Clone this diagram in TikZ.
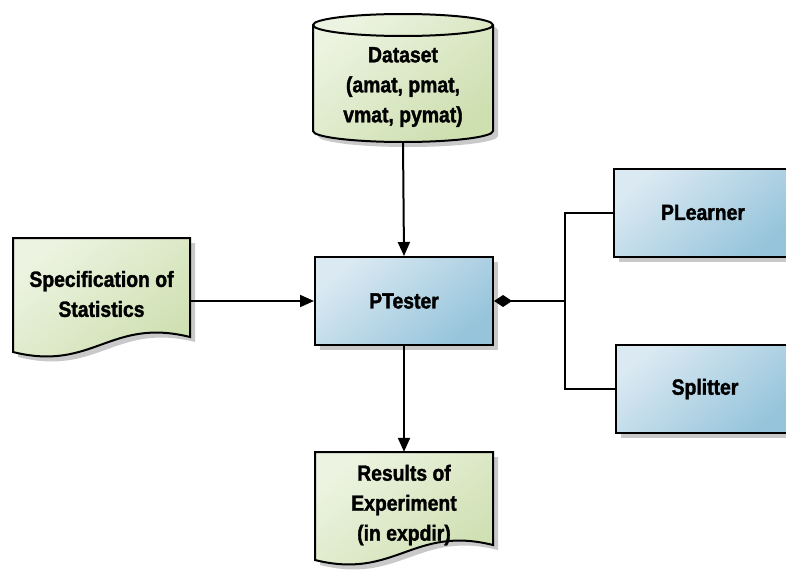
\documentclass[tikz,border=0pt]{standalone}
\usepackage{fontspec}
\setmainfont{Liberation Sans}[FakeStretch=0.88, BoldFeatures={FakeBold=1.6}]
\usetikzlibrary{shadows,arrows.meta}
\definecolor{grnA}{RGB}{236,243,224}
\definecolor{grnB}{RGB}{206,223,176}
\definecolor{bluA}{RGB}{218,233,242}
\definecolor{bluB}{RGB}{150,196,219}
\tikzset{
  lbl/.style={font=\bfseries\fontsize{22}{30}\selectfont, align=center, inner sep=0pt},
  shd/.style={drop shadow={shadow xshift=5pt, shadow yshift=-5pt, opacity=0.3, fill=black!70}},
  grnfill/.style={draw=black, line width=2pt, top color=grnA, bottom color=grnB, shading angle=40, shd},
  blubox/.style={rectangle, draw=black, line width=2pt, top color=bluA, bottom color=bluB, shading angle=40, shd,
     minimum width=178pt, minimum height=88pt, lbl},
  frame/.style={rectangle, draw=none, inner sep=0pt},
  conn/.style={line width=2pt, draw=black},
  arr/.style={conn, -{Triangle[length=14pt,width=12pt]}},
}
\begin{document}
\begin{tikzpicture}[x=1pt,y=-1pt]
\useasboundingbox (0,0) rectangle (786,570);
% Dataset cylinder
\path[grnfill] (313,25) -- (313,131) arc[start angle=180, end angle=360, x radius=90pt, y radius=11pt]
   -- (493,25) arc[start angle=0, end angle=180, x radius=90pt, y radius=11pt] -- cycle;
\draw[line width=2pt] (313,25) arc[start angle=180, end angle=360, x radius=90pt, y radius=11pt];
\node[frame, minimum width=180pt, minimum height=128pt] (dataset) at (403,78) {};
\node[lbl] (datasetlbl) at (403,87) {Dataset\\(amat, pmat,\\vmat, pymat)};
% Specification document
\path[grnfill] (13,238) -- (190,238) -- (190,337)
   .. controls (110,317) and (93,372) .. (13,352) -- cycle;
\node[frame, minimum width=177pt, minimum height=114pt] (spec) at (101.5,295) {};
\node[lbl] (speclbl) at (101.5,294) {Specification of\\Statistics};
% Results document
\path[grnfill] (315,452) -- (493,452) -- (493,545)
   .. controls (413,525) and (395,580) .. (315,560) -- cycle;
\node[frame, minimum width=178pt, minimum height=108pt] (results) at (404,506) {};
\node[lbl] (resultslbl) at (404,505) {Results of\\Experiment\\(in expdir)};
% Boxes
\node[blubox] (ptester) at (404,301) {PTester};
\node[blubox] (plearner) at (703,212.5) {PLearner};
\node[blubox] (splitter) at (705,389) {Splitter};
% Connectors
\draw[arr] (dataset.south) -- (ptester.north);
\draw[arr] (spec.east |- ptester.west) -- (ptester.west);
\draw[arr] (ptester.south) -- (results.north);
\coordinate (junc) at (565,301);
\draw[conn, {Diamond[length=18pt,width=12pt]}-] (ptester.east) -- (junc);
\draw[conn] (plearner.west) -| (junc) |- (splitter.west);
\end{tikzpicture}
\end{document}
